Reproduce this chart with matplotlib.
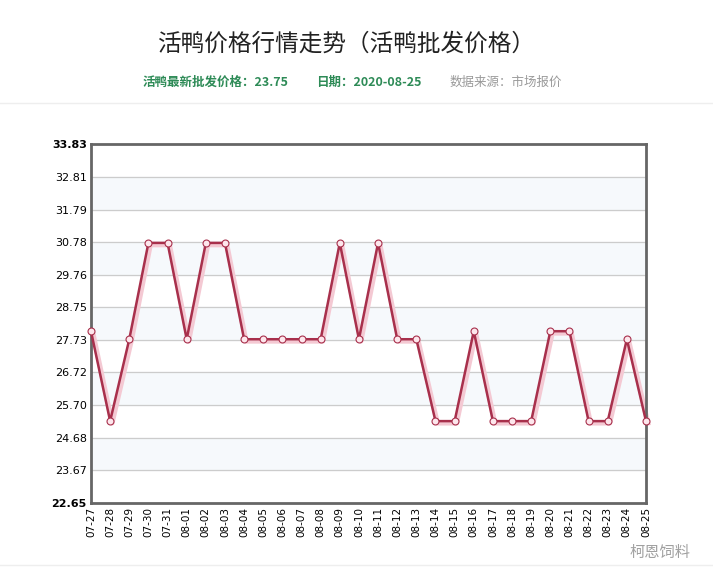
import numpy as np
import matplotlib
matplotlib.use("Agg")
import matplotlib.pyplot as plt
from matplotlib.transforms import offset_copy

plt.rcParams['font.family'] = ['Noto Sans CJK SC', 'DejaVu Sans']

# data
dates = ['07-27', '07-28', '07-29', '07-30', '07-31',
         '08-01', '08-02', '08-03', '08-04', '08-05', '08-06', '08-07', '08-08',
         '08-09', '08-10', '08-11', '08-12', '08-13', '08-14', '08-15', '08-16',
         '08-17', '08-18', '08-19', '08-20', '08-21', '08-22', '08-23', '08-24',
         '08-25']
prices = [28.0, 25.2, 27.75, 30.75, 30.75,
          27.75, 30.75, 30.75, 27.75, 27.75, 27.75, 27.75, 27.75,
          30.75, 27.75, 30.75, 27.75, 27.75, 25.2, 25.2, 28.0,
          25.2, 25.2, 25.2, 28.0, 28.0, 25.2, 25.2, 27.75,
          25.2]
y_ticks = [22.65, 23.67, 24.68, 25.70, 26.72, 27.73, 28.75, 29.76, 30.78,
           31.79, 32.81, 33.83]

line_col = '#a8304c'

fig = plt.figure(figsize=(7.13, 5.69), dpi=100)
ax = fig.add_axes([91/713, 1-503/569, 555/713, 359/569])

x = np.arange(len(dates))

# alternating bands
for i in range(1, len(y_ticks) - 1, 2):
    ax.axhspan(y_ticks[i], y_ticks[i+1], color='#f6f9fc', zorder=0)
for yv in y_ticks[1:-1]:
    ax.axhline(yv, color='#cccccc', lw=0.9, zorder=1)

shadow = offset_copy(ax.transData, fig=fig, x=2, y=-2, units='dots')
ax.plot(x, prices, color='#f4c9d3', lw=3.5, transform=shadow, zorder=2,
        solid_joinstyle='round', clip_on=False)
ax.plot(x, prices, color=line_col, lw=1.8, zorder=3, marker='o', ms=5,
        mfc='#fde6ec', mec=line_col, mew=0.8, clip_on=False)

ax.set_xlim(0, len(dates) - 1)
ax.set_ylim(y_ticks[0], y_ticks[-1])
ax.set_xticks(x)
ax.set_xticklabels(dates, rotation=90, fontsize=7.5, family='DejaVu Sans')
ax.set_yticks(y_ticks)
ylabels = ax.set_yticklabels(['%.2f' % v for v in y_ticks], fontsize=8,
                             family='DejaVu Sans')
ylabels[0].set_fontweight('bold')
ylabels[-1].set_fontweight('bold')
ax.tick_params(length=0, pad=3)
for s in ax.spines.values():
    s.set_color('#666666')
    s.set_linewidth(2)

# header
fig.text(0.486, 1-44/569, '活鸭价格行情走势（活鸭批发价格）', ha='center',
         va='center', fontsize=17, color='#222222')
fig.text(143/713, 1-82/569, '活鸭最新批发价格：23.75', ha='left', va='center',
         fontsize=9, color='#2e8b57', fontweight='bold')
fig.text(316/713, 1-82/569, '日期：2020-08-25', ha='left', va='center',
         fontsize=9, color='#2e8b57', fontweight='bold')
fig.text(450/713, 1-82/569, '数据来源：市场报价', ha='left', va='center',
         fontsize=9, color='#999999')
fig.add_artist(plt.Line2D([0, 1], [1-103/569, 1-103/569], color='#eeeeee', lw=1))
fig.add_artist(plt.Line2D([0, 1], [1-565/569, 1-565/569], color='#eeeeee', lw=1))

# watermark
fig.text(660/713, 1-552/569, '柯恩饲料', ha='center', va='center', fontsize=11,
         color='#888888', alpha=0.8)

fig.savefig('out.png', dpi=100, facecolor='white')
